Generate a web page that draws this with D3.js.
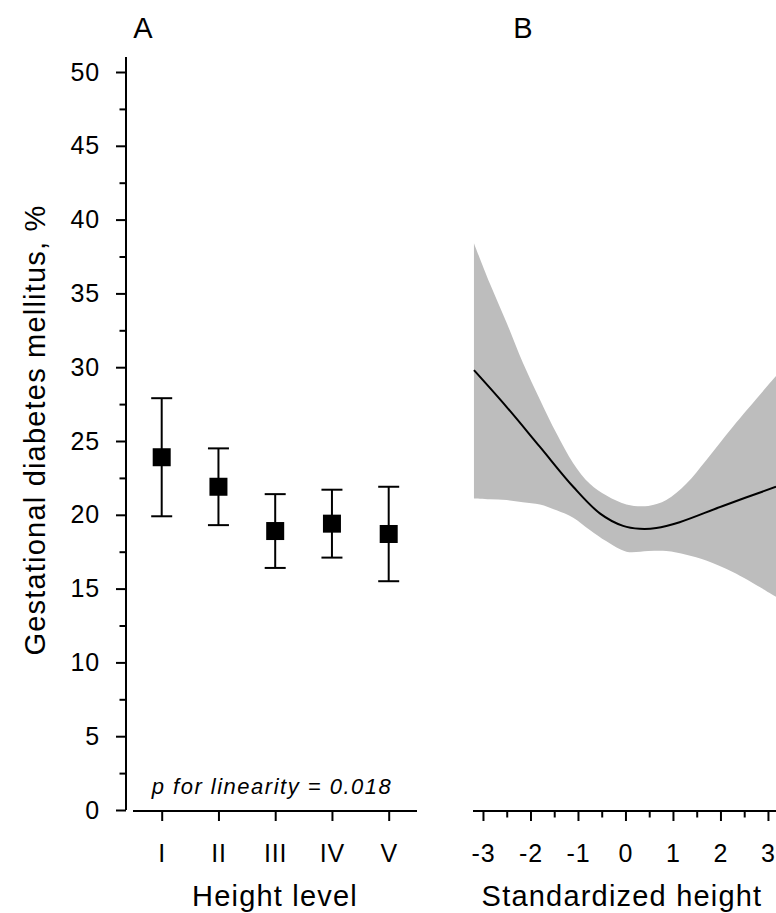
<!DOCTYPE html>
<html>
<head>
<meta charset="utf-8">
<script src="https://cdn.jsdelivr.net/npm/d3@7"></script>
<style>
  body { margin: 0; background: #fff; }
  svg { display: block; }
  svg text { font-family: "Liberation Sans", Arial, sans-serif; }
</style>
</head>
<body>
<svg id="chart" width="776" height="913"></svg>
<script>
// panel A: GDM by height level
const levels = ["I", "II", "III", "IV", "V"];
const levelEst = [23.9, 21.9, 18.9, 19.4, 18.7];
const levelLow = [19.9, 19.3, 16.4, 17.1, 15.5];
const levelHigh = [27.9, 24.5, 21.4, 21.7, 21.9];

// panel B: spline of standardized height
const splineX = [-3.19, -2.5, -1.8, -1.1, -0.54, -0.05, 0.3, 0.65, 1.14, 2.05, 3.17];
const splineMid = [29.8, 27.3, 24.6, 21.9, 20.1, 19.25, 19.05, 19.1, 19.5, 20.6, 21.9];
const bandX = [-3.19, -2.86, -2.5, -2.16, -1.8, -1.45, -1.1, -0.75, -0.4, 0.02, 0.48, 0.86, 1.28, 1.7, 2.27, 3.17];
const bandHigh = [38.4, 35.7, 33.0, 30.3, 27.8, 25.5, 23.5, 22.1, 21.3, 20.7, 20.6, 21.0, 22.1, 23.7, 26.0, 29.4];
const bandLow = [21.1, 21.05, 21.0, 20.85, 20.7, 20.3, 19.8, 18.97, 18.2, 17.5, 17.55, 17.55, 17.3, 16.9, 16.1, 14.45];

const yTicks = d3.range(0, 51, 5);
const yMinor = d3.range(2.5, 50, 5);
const xTicksB = [-3, -2, -1, 0, 1, 2, 3];
const xMinorB = [-2.5, -1.5, -0.5, 0.5, 1.5, 2.5];

const svg = d3.select("#chart");
const y = d3.scaleLinear().domain([0, 50]).range([810, 72]);
const xA = d3.scalePoint().domain(levels).range([161.7, 388.7]);
const xB = d3.scaleLinear().domain([-3.21, 3.5]).range([473, 791.7]);

const fontFamily = "'Liberation Sans', Arial, sans-serif";
const tickFont = "25px";

function styleTicks(g) {
    g.attr("font-family", fontFamily);
    g.selectAll("line").attr("stroke-width", 2);
    g.selectAll("text")
        .style("font-size", tickFont)
        .style("letter-spacing", "0.8px")
        .attr("fill", "#000");
}

// y axis
const gy = svg.append("g").attr("transform", "translate(126,0)");
gy.call(d3.axisLeft(y).tickValues(yTicks).tickSize(10).tickPadding(16).tickSizeOuter(0));
gy.append("g").call(d3.axisLeft(y).tickValues(yMinor).tickSize(6.5).tickFormat(""));
gy.selectAll(".domain").remove();
gy.append("line").attr("x1", 0).attr("x2", 0).attr("y1", 57).attr("y2", y(0)).attr("stroke", "#000");
styleTicks(gy);

svg.append("text")
    .attr("transform", `translate(45, ${(212 + 648) / 2}) rotate(-90)`)
    .attr("text-anchor", "middle")
    .style("font-size", "29px")
    .style("letter-spacing", "1.2px")
    .text("Gestational diabetes mellitus, %");

// panel A x axis
const gxA = svg.append("g").attr("transform", `translate(0, ${y(0) + 1})`);
gxA.call(d3.axisBottom(xA).tickSize(10).tickPadding(23).tickSizeOuter(0));
gxA.selectAll(".domain").remove();
gxA.append("line").attr("x1", 133).attr("x2", 417).attr("stroke", "#000");
styleTicks(gxA);

svg.append("text")
    .attr("x", 275).attr("y", 906)
    .attr("text-anchor", "middle")
    .style("font-size", "29px")
    .style("letter-spacing", "1.2px")
    .text("Height level");

svg.append("text")
    .attr("x", 272).attr("y", 794)
    .attr("text-anchor", "middle")
    .style("font-size", "22px")
    .style("font-style", "italic")
    .style("letter-spacing", "1.5px")
    .text("p for linearity = 0.018");

// error bars + squares
const bars = svg.append("g").selectAll("g")
    .data(levels)
    .join("g");
bars.append("line")
    .attr("x1", (d) => xA(d)).attr("x2", (d) => xA(d))
    .attr("y1", (d, i) => y(levelLow[i])).attr("y2", (d, i) => y(levelHigh[i]))
    .attr("stroke", "#000").attr("stroke-width", 2);
[levelLow, levelHigh].forEach((arr) => {
    bars.append("line")
        .attr("x1", (d) => xA(d) - 10.5).attr("x2", (d) => xA(d) + 10.5)
        .attr("y1", (d, i) => y(arr[i])).attr("y2", (d, i) => y(arr[i]))
        .attr("stroke", "#000").attr("stroke-width", 2);
});
bars.append("rect")
    .attr("x", (d) => xA(d) - 9).attr("y", (d, i) => y(levelEst[i]) - 9)
    .attr("width", 18).attr("height", 18)
    .attr("fill", "#000");

// panel B
const bandData = bandX.map((v, i) => ({x: v, lo: bandLow[i], hi: bandHigh[i]}));
svg.append("path")
    .datum(bandData)
    .attr("fill", "#bdbdbd")
    .attr("d", d3.area().curve(d3.curveCatmullRom)
        .x((d) => xB(d.x)).y0((d) => y(d.lo)).y1((d) => y(d.hi)));

svg.append("path")
    .datum(splineX.map((v, i) => ({x: v, y: splineMid[i]})))
    .attr("fill", "none")
    .attr("stroke", "#000")
    .attr("stroke-width", 2)
    .attr("d", d3.line().curve(d3.curveCatmullRom).x((d) => xB(d.x)).y((d) => y(d.y)));

const gxB = svg.append("g").attr("transform", `translate(0, ${y(0) + 1})`);
gxB.call(d3.axisBottom(xB).tickValues(xTicksB).tickSize(10).tickPadding(23).tickSizeOuter(0)
    .tickFormat((d) => String(d)));
gxB.append("g").call(d3.axisBottom(xB).tickValues(xMinorB).tickSize(6.5).tickFormat(""));
gxB.selectAll(".domain").remove();
gxB.append("line").attr("x1", 473).attr("x2", 776).attr("stroke", "#000");
styleTicks(gxB);

svg.append("text")
    .attr("x", 622).attr("y", 906)
    .attr("text-anchor", "middle")
    .style("font-size", "29px")
    .style("letter-spacing", "1.2px")
    .text("Standardized height");

// panel letters
svg.append("text").attr("x", 143).attr("y", 38).attr("text-anchor", "middle").style("font-size", "29px").text("A");
svg.append("text").attr("x", 523).attr("y", 38).attr("text-anchor", "middle").style("font-size", "29px").text("B");
</script>
</body>
</html>
